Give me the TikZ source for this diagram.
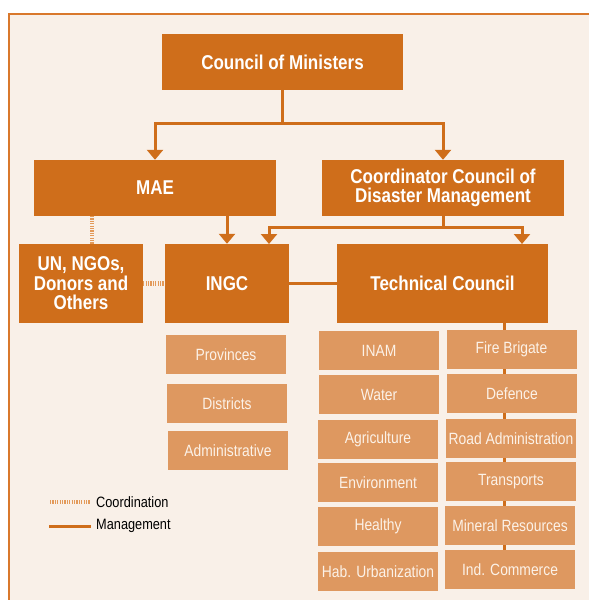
\documentclass[tikz,border=0pt]{standalone}
\usepackage{fontspec}
\setmainfont{Liberation Sans}[FakeStretch=0.85]
\usetikzlibrary{arrows.meta}
\definecolor{dk}{HTML}{CF6E1B}
\definecolor{lt}{HTML}{DE9860}
\definecolor{bg}{HTML}{F9F0E8}
\definecolor{bd}{HTML}{D9782C}
\definecolor{dash}{HTML}{E39A5A}
\definecolor{lttext}{HTML}{FCF2E8}
\tikzset{
  darkbox/.style={fill=dk, text=white, inner sep=0pt, align=center,
    font=\fontsize{20}{19.5}\selectfont\bfseries},
  lightbox/.style={fill=lt, text=lttext, inner sep=0pt, minimum height=39pt,
    font=\fontsize{16.3}{18}\selectfont},
  mgmt/.style={draw=dk, line width=3pt},
  arr/.style={mgmt, -{Triangle[width=16pt,length=10pt]}},
  coord/.style={draw=dash, line width=4.5pt, dash pattern=on 1.2pt off 1.2pt},
  legtext/.style={anchor=west, inner sep=0pt, text=black, font=\fontsize{15}{17}\selectfont}
}
\begin{document}
\begin{tikzpicture}[x=1pt,y=-1pt]
\useasboundingbox (0,0) rectangle (589,600);
\fill[white] (0,0) rectangle (589,600);
\fill[bg] (9,14) rectangle (589,600);
\draw[bd, line width=2pt] (9,600) -- (9,14) -- (589,14);

% main boxes
\node[darkbox, minimum width=241pt, minimum height=56pt] (council) at (282.5,62) {Council of Ministers};
\node[darkbox, minimum width=242pt, minimum height=56pt] (mae) at (155,188) {MAE};
\node[darkbox, minimum width=242pt, minimum height=56pt] (ccdm) at (443,188) {Coordinator Council of\\Disaster Management};
\node[darkbox, minimum width=124pt, minimum height=79pt] (un) at (81,283.5) {UN, NGOs,\\Donors and\\Others};
\node[darkbox, minimum width=124pt, minimum height=79pt] (ingc) at (227,283.5) {INGC};
\node[darkbox, minimum width=211pt, minimum height=79pt] (tech) at (442.5,283.5) {Technical Council};

% connectors
\coordinate (j1) at (282.5,123);
\draw[mgmt] (council.south) -- (j1);
\draw[arr] (j1) -| (mae.north);
\draw[arr] (j1) -| (ccdm.north);
\draw[arr] (mae.south -| ingc.north) -- (ingc.north);
\coordinate (j2) at (443,227);
\coordinate (a1) at (269,244);
\coordinate (a2) at (522,244);
\draw[mgmt] (ccdm.south) -- (j2);
\draw[arr] (j2) -| (a1);
\draw[arr] (j2) -| (a2);
\draw[mgmt] (ingc.east) -- (tech.west);
\coordinate (d1) at (92,216);
\draw[coord] (d1) -- (d1 |- un.north);
\draw[coord] (un.east) -- (ingc.west);
\coordinate (t1) at (504,323);
\coordinate (t2) at (504,552);
\draw[mgmt] (t1) -- (t2);

% INGC sub-boxes
\node[lightbox, minimum width=120pt] (prov) at (226,354.5) {Provinces};
\node[lightbox, minimum width=120pt] (dist) at (227,403.5) {Districts};
\node[lightbox, minimum width=120pt] (admin) at (228,450.5) {Administrative};

% technical council left column
\node[lightbox, minimum width=120pt] (inam) at (379,350.5) {INAM};
\node[lightbox, minimum width=120pt] (water) at (379,394.5) {Water};
\node[lightbox, minimum width=120pt] (agri) at (378,439.5) {Agriculture};
\node[lightbox, minimum width=120pt] (env) at (378,482.5) {Environment};
\node[lightbox, minimum width=120pt] (health) at (378,526.5) {Healthy};
\node[lightbox, minimum width=120pt] (hab) at (378,571.5) {Hab. Urbanization};

% technical council right column
\node[lightbox, minimum width=130pt] (fire) at (511.5,349.5) {Fire Brigate};
\node[lightbox, minimum width=130pt] (def) at (512,393.5) {Defence};
\node[lightbox, minimum width=130pt] (road) at (511,438.5) {Road Administration};
\node[lightbox, minimum width=130pt] (trans) at (511,481.5) {Transports};
\node[lightbox, minimum width=130pt] (min) at (510,525.5) {Mineral Resources};
\node[lightbox, minimum width=130pt] (ind) at (510,569.5) {Ind. Commerce};

% legend
\coordinate (l1) at (50,502);
\coordinate (l2) at (90,502);
\coordinate (l3) at (49,526);
\coordinate (l4) at (91,526);
\draw[coord, line width=4pt] (l1) -- (l2);
\draw[mgmt] (l3) -- (l4);
\node[legtext] (lc) at (96,502) {Coordination};
\node[legtext] (lm) at (96,526) {Management};
\end{tikzpicture}
\end{document}
